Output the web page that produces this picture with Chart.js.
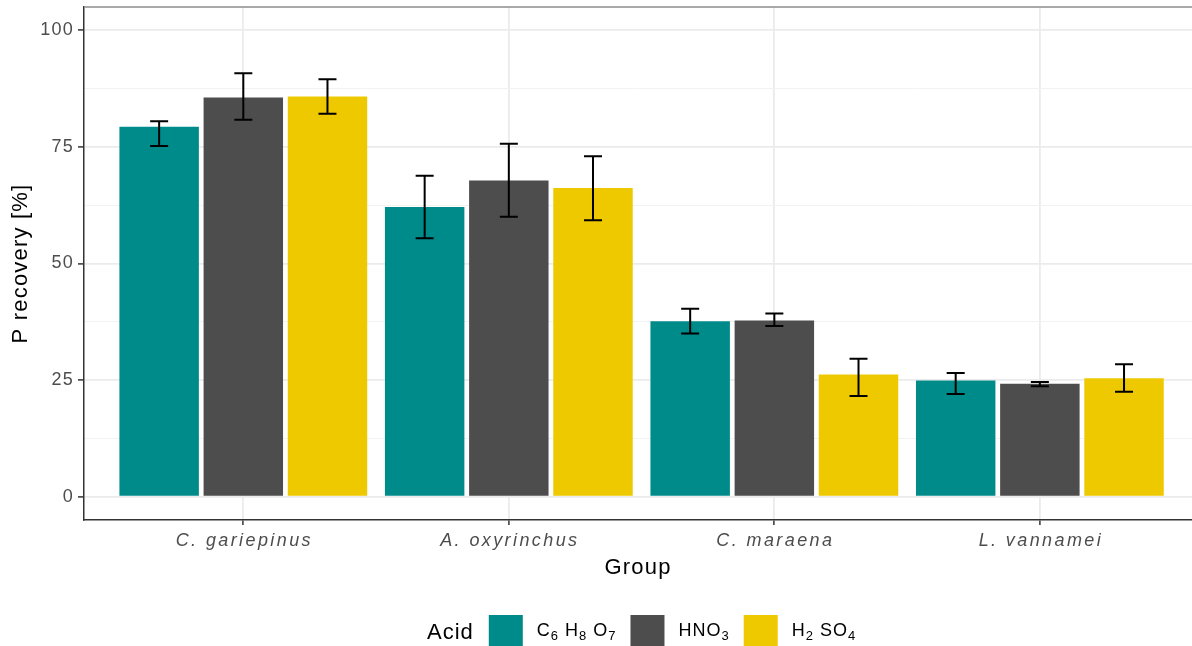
<!DOCTYPE html>
<html>
<head>
<meta charset="utf-8">
<title>P recovery by group and acid</title>
<script src="https://cdn.jsdelivr.net/npm/chart.js@4.4.0/dist/chart.umd.min.js"></script>
<style>
  html, body { margin: 0; padding: 0; background: #ffffff; }
  #wrap { width: 1192px; height: 646px; }
</style>
</head>
<body>
<div id="wrap"><canvas id="recoveryChart" width="1192" height="646"></canvas></div>
<script>
// --- data ---
const groups = ['C. gariepinus', 'A. oxyrinchus', 'C. maraena', 'L. vannamei'];
const groupPos = [1, 2, 3, 4];
const acids = ['C\u2086 H\u2088 O\u2087', 'HNO\u2083', 'H\u2082 SO\u2084'];
const acidColors = ['#008b8b', '#4d4d4d', '#eec900'];

// bar heights (P recovery, %)
const recC6H8O7 = [79.3, 62.1, 37.6, 24.9];
const recHNO3   = [85.6, 67.8, 37.8, 24.2];
const recH2SO4  = [85.8, 66.2, 26.2, 25.4];

// error bar ends
const lowC6H8O7 = [75.2, 55.4, 35.0, 22.0];
const upC6H8O7  = [80.5, 68.8, 40.3, 26.5];
const lowHNO3   = [80.8, 60.0, 36.6, 23.7];
const upHNO3    = [90.8, 75.7, 39.3, 24.6];
const lowH2SO4  = [82.1, 59.3, 21.6, 22.5];
const upH2SO4   = [89.5, 73.0, 29.6, 28.4];

const yTicks = [0, 12.5, 25, 37.5, 50, 62.5, 75, 87.5, 100];

const seriesValues = [recC6H8O7, recHNO3, recH2SO4];
const seriesLow = [lowC6H8O7, lowHNO3, lowH2SO4];
const seriesUp = [upC6H8O7, upHNO3, upH2SO4];

const FONT = "'Liberation Sans', Arial, sans-serif";

// --- error bars on top of the bars ---
const errorBars = {
  id: 'errorBars',
  afterDatasetsDraw(chart) {
    const ctx = chart.ctx;
    const y = chart.scales.y;
    ctx.save();
    ctx.strokeStyle = '#000000';
    ctx.lineWidth = 2;
    chart.data.datasets.forEach((ds, d) => {
      const meta = chart.getDatasetMeta(d);
      meta.data.forEach((bar, i) => {
        const top = y.getPixelForValue(seriesUp[d][i]);
        const bot = y.getPixelForValue(seriesLow[d][i]);
        ctx.beginPath();
        ctx.moveTo(bar.x, top); ctx.lineTo(bar.x, bot);
        ctx.moveTo(bar.x - 9, top); ctx.lineTo(bar.x + 9, top);
        ctx.moveTo(bar.x - 9, bot); ctx.lineTo(bar.x + 9, bot);
        ctx.stroke();
      });
    });
    ctx.restore();
  }
};

// --- italic spaced group labels, top panel border, legend with subscripts ---
function drawSubText(ctx, text, x, baseline, size, subSize) {
  let cx = x;
  for (const ch of text) {
    const code = ch.charCodeAt(0);
    if (code >= 0x2080 && code <= 0x2089) {
      ctx.font = subSize + 'px ' + FONT;
      const digit = String.fromCharCode(code - 0x2080 + 48);
      ctx.fillText(digit, cx, baseline + 4);
      cx += ctx.measureText(digit).width;
    } else {
      ctx.font = size + 'px ' + FONT;
      ctx.fillText(ch, cx, baseline);
      cx += ctx.measureText(ch).width;
    }
  }
  return cx - x;
}

function measureSubText(ctx, text, size, subSize) {
  let w = 0;
  for (const ch of text) {
    const code = ch.charCodeAt(0);
    if (code >= 0x2080 && code <= 0x2089) {
      ctx.font = subSize + 'px ' + FONT;
      w += ctx.measureText(String.fromCharCode(code - 0x2080 + 48)).width;
    } else {
      ctx.font = size + 'px ' + FONT;
      w += ctx.measureText(ch).width;
    }
  }
  return w;
}

const decorations = {
  id: 'decorations',
  beforeDraw(chart) {
    chart.ctx.letterSpacing = '1.2px';
  },
  afterDraw(chart) {
    const ctx = chart.ctx;
    const area = chart.chartArea;
    const x = chart.scales.x;
    ctx.save();

    // top panel border
    ctx.strokeStyle = '#8c8c8c';
    ctx.lineWidth = 1.5;
    ctx.beginPath();
    ctx.moveTo(area.left, area.top);
    ctx.lineTo(area.right, area.top);
    ctx.stroke();

    // group labels
    ctx.fillStyle = '#4d4d4d';
    ctx.font = 'italic 18px ' + FONT;
    ctx.letterSpacing = '2.4px';
    ctx.textAlign = 'center';
    ctx.textBaseline = 'alphabetic';
    groups.forEach((g, i) => {
      ctx.fillText(g, x.getPixelForValue(groupPos[i]) + 1, 546);
    });

    // legend
    ctx.letterSpacing = '1px';
    ctx.textAlign = 'left';
    ctx.fillStyle = '#000000';
    ctx.font = '22px ' + FONT;
    const titleW = ctx.measureText('Acid').width;
    const boxW = 34, gapTitle = 15, gapBox = 14, gapItem = 14;
    const labelW = acids.map(a => measureSubText(ctx, a, 18, 13));
    let total = titleW + gapTitle;
    labelW.forEach((w, i) => {
      total += boxW + gapBox + w + (i < labelW.length - 1 ? gapItem : 0);
    });
    const centre = x.getPixelForValue(2.5);
    let cx = centre - total / 2;
    ctx.font = '22px ' + FONT;
    ctx.fillText('Acid', cx, 639);
    cx += titleW + gapTitle;
    acids.forEach((a, i) => {
      ctx.fillStyle = acidColors[i];
      ctx.fillRect(cx, 615, boxW, 33);
      cx += boxW + gapBox;
      ctx.fillStyle = '#000000';
      drawSubText(ctx, a, cx, 636, 18, 13);
      cx += labelW[i] + gapItem;
    });
    ctx.restore();
  }
};

function noPad(s) {
  s.paddingTop = 0; s.paddingBottom = 0; s.paddingLeft = 0; s.paddingRight = 0;
}

const ctx = document.getElementById('recoveryChart').getContext('2d');

new Chart(ctx, {
  type: 'bar',
  data: {
    datasets: acids.map((a, d) => ({
      label: a,
      data: groupPos.map((p, i) => ({ x: p, y: seriesValues[d][i] })),
      backgroundColor: acidColors[d],
      borderWidth: 0,
      categoryPercentage: 0.951,
      barPercentage: 0.944
    }))
  },
  options: {
    responsive: false,
    animation: false,
    devicePixelRatio: 1,
    layout: { padding: { top: 7, right: 0, bottom: 48, left: 0 } },
    plugins: { legend: { display: false }, tooltip: { enabled: false } },
    scales: {
      x: {
        type: 'linear',
        offset: false,
        min: 0.4,
        max: 4.573,
        afterBuildTicks: s => { s.ticks = groupPos.map(v => ({ value: v })); },
        afterFit: s => { s.height = 78; noPad(s); },
        ticks: { display: false },
        grid: {
          offset: false,
          color: '#ebebeb',
          lineWidth: 1.8,
          tickLength: 5,
          tickColor: '#333333',
          tickWidth: 1.5
        },
        border: { display: true, color: '#333333', width: 1.5 },
        title: {
          display: true,
          text: 'Group',
          color: '#000000',
          font: { family: FONT, size: 22, lineHeight: 1.2 },
          padding: { top: 0, bottom: 17 }
        }
      },
      y: {
        min: -5,
        max: 105,
        afterBuildTicks: s => { s.ticks = yTicks.map(v => ({ value: v })); },
        afterFit: s => { s.width = 84; noPad(s); },
        ticks: {
          color: '#4d4d4d',
          font: { family: FONT, size: 18 },
          padding: 4,
          callback: v => (v % 25 === 0 ? String(v) : '')
        },
        grid: {
          color: c => (c.tick && c.tick.value % 25 === 0 ? '#ebebeb' : '#f2f2f2'),
          lineWidth: c => (c.tick && c.tick.value % 25 === 0 ? 1.8 : 1),
          tickLength: 6,
          tickColor: c => (c.tick && c.tick.value % 25 === 0 ? '#333333' : 'rgba(0,0,0,0)'),
          tickWidth: 1.5
        },
        border: { display: true, color: '#333333', width: 1.5 },
        title: {
          display: true,
          text: 'P recovery [%]',
          color: '#000000',
          font: { family: FONT, size: 22, lineHeight: 1.2 },
          padding: { top: 8, bottom: 0 }
        }
      }
    }
  },
  plugins: [errorBars, decorations]
});
</script>
</body>
</html>
